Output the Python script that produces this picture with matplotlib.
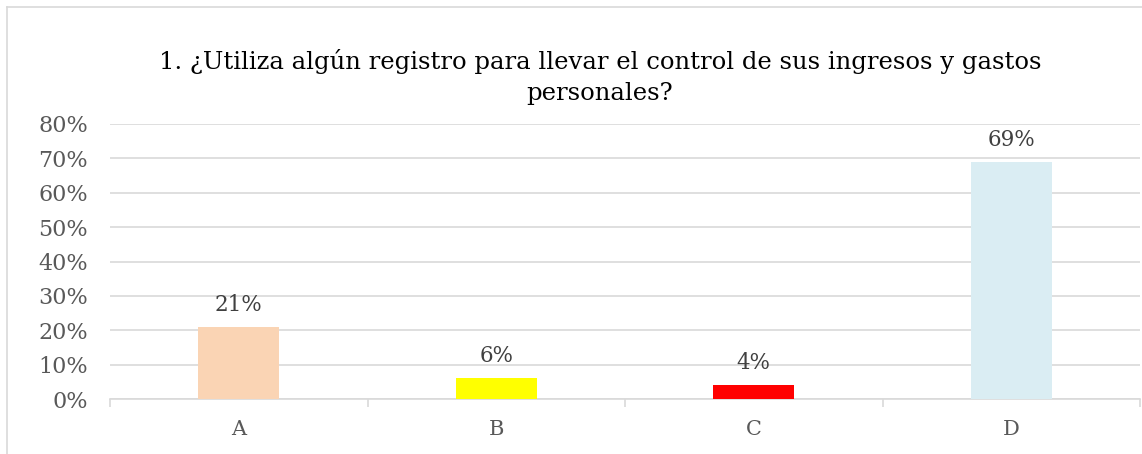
import matplotlib
matplotlib.use("Agg")
import matplotlib.pyplot as plt
from matplotlib.lines import Line2D
from matplotlib.ticker import FuncFormatter, MultipleLocator

categories = ["A", "B", "C", "D"]
values = [0.21, 0.06, 0.04, 0.69]
labels = ["21%", "6%", "4%", "69%"]
colors = ["#fad4b4", "#ffff00", "#ff0000", "#daedf3"]
title = "1. ¿Utiliza algún registro para llevar el control de sus ingresos y gastos\npersonales?"

plt.rcParams["font.family"] = ["DejaVu Serif"]

W, H = 1142, 454
fig = plt.figure(figsize=(W / 100, H / 100), dpi=100)
ax = fig.add_axes([110 / W, 1 - 399 / H, 1030 / W, 275 / H])

# outer chart border (left and top only, the rest is cropped off)
border = dict(transform=fig.transFigure, color="#d9d9d9", linewidth=1.2)
fig.lines.append(Line2D([7 / W, 7 / W], [0, 1 - 7 / H], **border))
fig.lines.append(Line2D([7 / W, 1], [1 - 7 / H, 1 - 7 / H], **border))

x = range(len(categories))
ax.bar(x, values, width=0.315, color=colors, zorder=3)
for xi, v, lab in zip(x, values, labels):
    ax.text(xi, v + 0.032, lab, ha="center", va="bottom", fontsize=15.5, color="#404040")

ax.set_xlim(-0.5, len(categories) - 0.5)
ax.set_ylim(0, 0.8)
ax.yaxis.set_major_locator(MultipleLocator(0.1))
ax.yaxis.set_major_formatter(FuncFormatter(lambda v, _: f"{v * 100:.0f}%"))
ax.grid(axis="y", color="#d9d9d9", linewidth=1.2, zorder=0)

ax.set_xticks(list(x))
ax.set_xticklabels(categories)
ax.set_xticks([i + 0.5 for i in range(-1, len(categories))], minor=True)
ax.tick_params(axis="x", which="major", length=0, pad=15, labelsize=15, labelcolor="#595959")
ax.tick_params(axis="x", which="minor", length=6, color="#d9d9d9", width=1.2)
ax.tick_params(axis="y", length=0, pad=16, labelsize=16, labelcolor="#595959")

for side in ["top", "right", "left"]:
    ax.spines[side].set_visible(False)
ax.spines["bottom"].set_color("#d9d9d9")
ax.spines["bottom"].set_linewidth(1.2)

fig.text(600 / W, 1 - 77 / H, title, ha="center", va="center", fontsize=17.5,
         color="#000000", linespacing=1.4)

fig.savefig("out.png", dpi=100)
